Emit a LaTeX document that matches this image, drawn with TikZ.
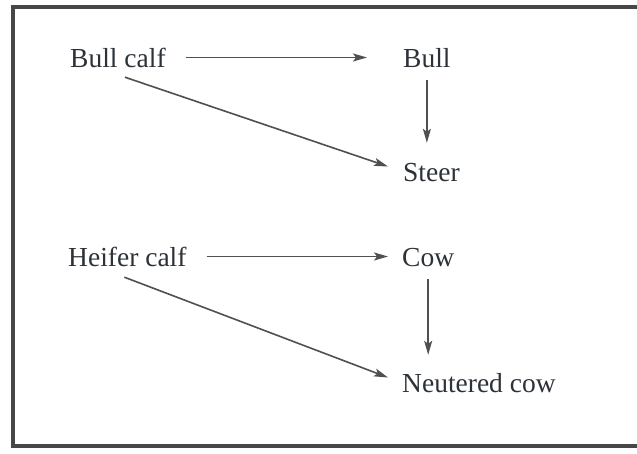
\documentclass[tikz,border=0pt]{standalone}
\usepackage{fontspec}
\setmainfont{Liberation Serif}
\usetikzlibrary{arrows.meta}
\definecolor{inkc}{HTML}{2C3238}
\definecolor{linec}{HTML}{505050}
\definecolor{framec}{HTML}{474747}
\tikzset{
  lbl/.style={inner sep=0pt, anchor=base west, text=inkc,
    font=\fontsize{27.5}{30}\selectfont, text height=19pt, text depth=0pt},
  arr/.style={draw=linec, line width=1.6pt,
    -{Stealth[length=14pt,width=8pt,inset=3pt]}}
}
\begin{document}
\begin{tikzpicture}[x=1pt,y=-1pt]
\useasboundingbox (0,0) rectangle (637,453);
\fill[white] (0,0) rectangle (637,453);
% frame (open on the right, as in the reference)
\draw[framec, line width=4pt, line join=miter] (637,7) -- (13,7) -- (13,446) -- (637,446);

\node[lbl] (bc) at (70,67) {Bull calf};
\node[lbl] (bull) at (403,67) {Bull};
\node[lbl] (steer) at (403,181) {Steer};
\node[lbl] (hc) at (68,266) {Heifer calf};
\node[lbl] (cow) at (402,266) {Cow};
\node[lbl] (nc) at (402,392) {Neutered cow};

\draw[arr, shorten <=20pt, shorten >=36pt] (bc.east) -- (bc.east -| bull.west);
\draw[arr, shorten <=13pt, shorten >=19pt] (bull.south) -- (bull.south |- steer.north);
\draw[arr] ([xshift=7pt,yshift=-10pt]bc.south) -- ([xshift=-15pt,yshift=5pt]steer.west);

\draw[arr, shorten <=20pt, shorten >=14pt] (hc.east) -- (hc.east -| cow.west);
\draw[arr, shorten <=13pt, shorten >=18pt] (cow.south) -- (cow.south |- nc.north);
\draw[arr] ([xshift=-3pt,yshift=-11pt]hc.south) -- ([xshift=-14pt,yshift=5pt]nc.west);
\end{tikzpicture}
\end{document}
